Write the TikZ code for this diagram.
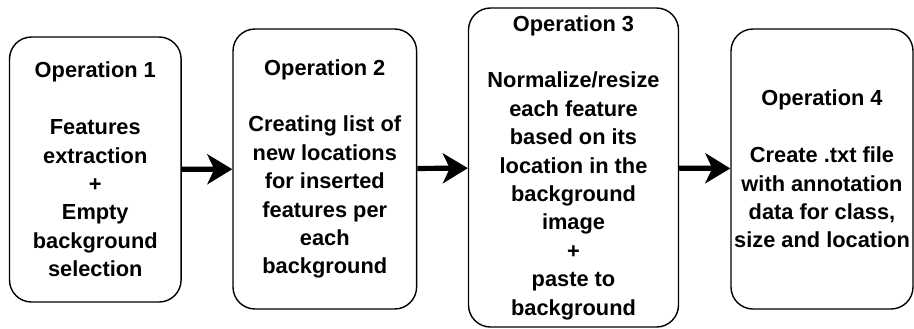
\documentclass[tikz,border=0pt]{standalone}
\usepackage{fontspec}
\setmainfont{Liberation Sans}
\usetikzlibrary{arrows.meta}

\begin{document}
\begin{tikzpicture}[x=0.5pt, y=-0.5pt,
    % Styles
    opbox/.style={draw, rounded corners=11pt, line width=0.7pt, inner sep=0.5pt,
                  align=center, font=\fontsize{10.9pt}{14.2pt}\selectfont\bfseries},
    arrow/.style={-{Stealth[length=12.5pt, width=15pt, inset=3.5pt]}, line width=2.6pt},
  ]

  \useasboundingbox (0,0) rectangle (914,328);

  % Operation 1
  \node[opbox, minimum width=85.8pt, minimum height=132.5pt] (op1) at (95.3, 169.5) {
    Operation 1\\[14.2pt]
    Features\\
    extraction\\
    +\\
    Empty\\
    background\\
    selection
  };

  % Operation 2
  \node[opbox, minimum width=91.8pt, minimum height=140pt] (op2) at (324.8, 169) {
    Operation 2\\[14.2pt]
    Creating list of\\
    new locations\\
    for inserted\\
    features per\\
    each\\
    background
  };

  % Operation 3
  \node[opbox, minimum width=105pt, minimum height=159.5pt] (op3) at (573.5, 167.5) {
    Operation 3\\[14.2pt]
    Normalize/resize\\
    each feature\\
    based on its\\
    location in the\\
    background\\
    image\\
    +\\
    paste to\\
    background
  };

  % Operation 4
  \node[opbox, minimum width=91pt, minimum height=140pt] (op4) at (822, 169) {
    Operation 4\\[14.2pt]
    Create .txt file\\
    with annotation\\
    data for class,\\
    size and location
  };

  % Arrows
  \draw[arrow] (op1) -- (op2);
  \draw[arrow] (op2) -- (op3);
  \draw[arrow] (op3) -- (op4);

\end{tikzpicture}
\end{document}
